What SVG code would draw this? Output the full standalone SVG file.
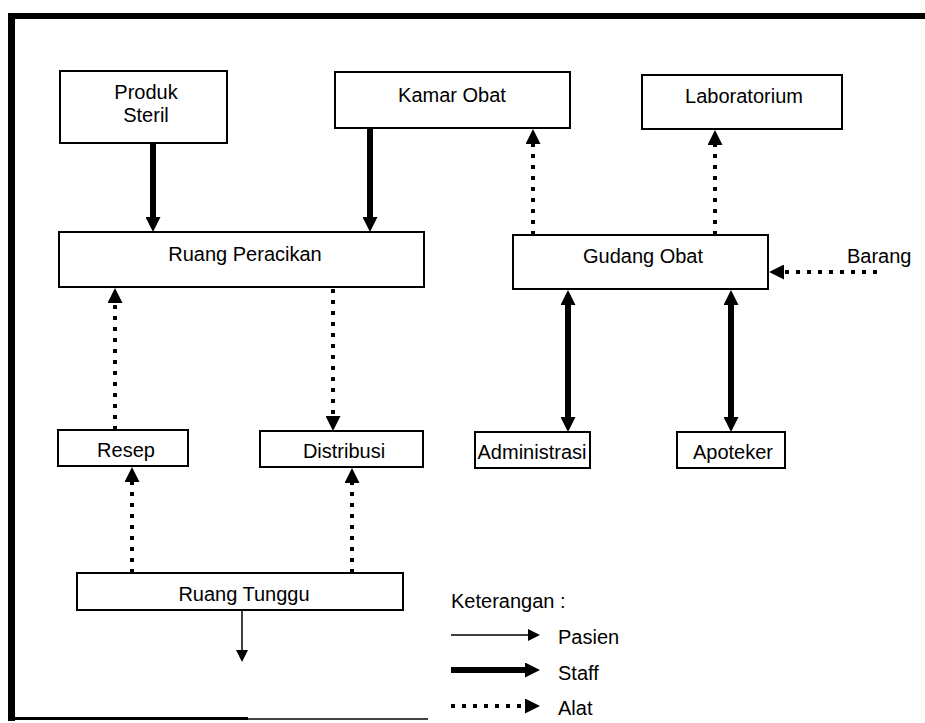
<svg xmlns="http://www.w3.org/2000/svg" width="925" height="723" viewBox="0 0 925 723">
<defs>
<style>
.box{fill:#fff;stroke:#000;stroke-width:2}
.t{font-family:"Liberation Sans",Arial,sans-serif;font-size:20px;fill:#000;text-anchor:middle}
.tl{font-family:"Liberation Sans",Arial,sans-serif;font-size:20px;fill:#000}
.staff{stroke:#000;stroke-width:6;fill:none}
.alat{stroke:#000;stroke-width:4;stroke-dasharray:4 7;fill:none}
.pasien{stroke:#000;stroke-width:1.5;fill:none}
</style>
<marker id="ah" viewBox="0 0 10 10" refX="0" refY="5" markerWidth="15" markerHeight="15" markerUnits="userSpaceOnUse" orient="auto-start-reverse">
<path d="M0,0 L10,5 L0,10 z" fill="#000"/>
</marker>
<marker id="ahs" viewBox="0 0 10 10" refX="0" refY="5" markerWidth="12" markerHeight="12" markerUnits="userSpaceOnUse" orient="auto">
<path d="M0,0 L10,5 L0,10 z" fill="#000"/>
</marker>
</defs>
<rect width="925" height="723" fill="#fff"/>
<g id="frame">
<rect x="8" y="13" width="917" height="6" fill="#000"/>
<rect x="8" y="13" width="7" height="708" fill="#000"/>
<rect x="8" y="717" width="240" height="3" fill="#000"/>
<rect x="248" y="718" width="180" height="2" fill="#444"/>
</g>
<g id="connectors">
<line class="staff" x1="153" y1="143" x2="153" y2="217" marker-end="url(#ah)"/>
<line class="staff" x1="370" y1="128" x2="370" y2="217" marker-end="url(#ah)"/>
<line class="alat" x1="333" y1="289" x2="333" y2="416" marker-end="url(#ah)"/>
<line class="alat" x1="115" y1="430" x2="115" y2="303" marker-end="url(#ah)"/>
<line class="alat" x1="132" y1="573" x2="132" y2="482" marker-end="url(#ah)"/>
<line class="alat" x1="352" y1="573" x2="352" y2="483" marker-end="url(#ah)"/>
<line class="pasien" x1="242" y1="610" x2="242" y2="650" marker-end="url(#ahs)"/>
<line class="alat" x1="533" y1="235" x2="533" y2="144" marker-end="url(#ah)"/>
<line class="alat" x1="715" y1="235" x2="715" y2="145" marker-end="url(#ah)"/>
<line class="alat" x1="877" y1="272" x2="784" y2="272" marker-end="url(#ah)"/>
<line class="staff" x1="568" y1="305" x2="568" y2="417" marker-start="url(#ah)" marker-end="url(#ah)"/>
<line class="staff" x1="731" y1="305" x2="731" y2="417" marker-start="url(#ah)" marker-end="url(#ah)"/>
</g>
<g id="produk-steril"><rect class="box" x="60" y="71" width="167" height="72"/><text class="t" x="146" y="99">Produk</text><text class="t" x="146" y="122">Steril</text></g>
<g id="kamar-obat"><rect class="box" x="335" y="72" width="235" height="56"/><text class="t" x="452" y="102">Kamar Obat</text></g>
<g id="laboratorium"><rect class="box" x="642" y="75" width="200" height="54"/><text class="t" x="744" y="103">Laboratorium</text></g>
<g id="ruang-peracikan"><rect class="box" x="59" y="232" width="365" height="55"/><text class="t" x="245" y="261">Ruang Peracikan</text></g>
<g id="gudang-obat"><rect class="box" x="513" y="235" width="255" height="54"/><text class="t" x="643" y="263">Gudang Obat</text></g>
<g id="barang"><text class="tl" x="847" y="263">Barang</text></g>
<g id="resep"><rect class="box" x="58" y="430" width="130" height="36"/><text class="t" x="126" y="457">Resep</text></g>
<g id="distribusi"><rect class="box" x="260" y="431" width="163" height="36"/><text class="t" x="344" y="458">Distribusi</text></g>
<g id="administrasi"><rect class="box" x="475" y="432" width="115" height="36"/><text class="t" x="532" y="459">Administrasi</text></g>
<g id="apoteker"><rect class="box" x="677" y="432" width="108" height="36"/><text class="t" x="733" y="459">Apoteker</text></g>
<g id="ruang-tunggu"><rect class="box" x="77" y="573" width="326" height="37"/><text class="t" x="244" y="601">Ruang Tunggu</text></g>
<g id="legend">
<text class="tl" x="451" y="608">Keterangan :</text>
<line class="pasien" x1="451" y1="635" x2="528" y2="635" marker-end="url(#ahs)"/>
<text class="tl" x="558" y="644">Pasien</text>
<line class="staff" x1="451" y1="670" x2="525" y2="670" marker-end="url(#ah)"/>
<text class="tl" x="558" y="680">Staff</text>
<line class="alat" x1="451" y1="706" x2="525" y2="706" marker-end="url(#ah)"/>
<text class="tl" x="558" y="715">Alat</text>
</g>
</svg>
